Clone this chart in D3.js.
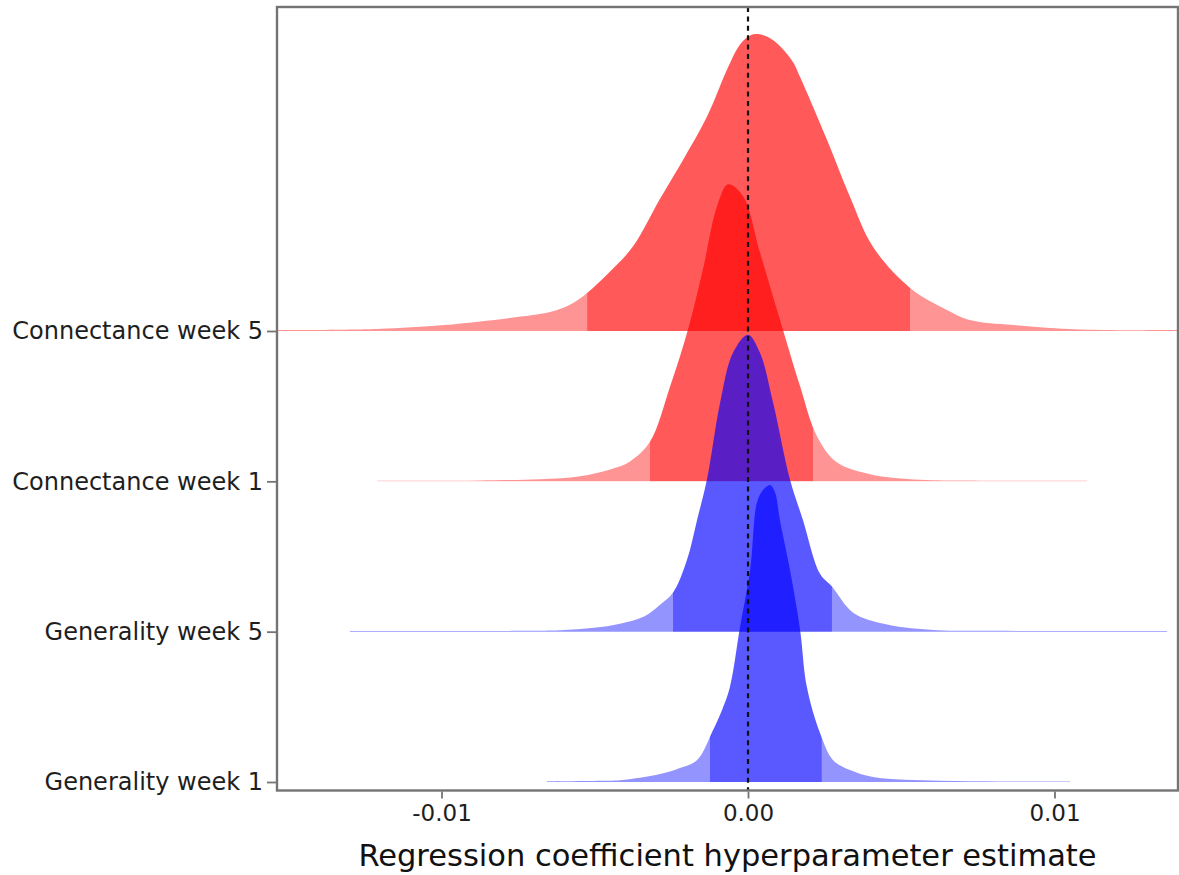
<!DOCTYPE html>
<html>
<head>
<meta charset="utf-8">
<script src="https://cdn.jsdelivr.net/npm/d3@7"></script>
<style>
  body { margin: 0; background: #fff; }
  svg { display: block; }
  text { font-family: "DejaVu Sans", sans-serif; }
</style>
</head>
<body>
<svg id="chart" width="1179" height="875"></svg>
<script>
// Rows, top to bottom
const categories = ["Connectance week 5", "Connectance week 1", "Generality week 5", "Generality week 1"];
const groups = ["connectance", "connectance", "generality", "generality"];

// Posterior densities: estimate grid and relative density (peak = 1)
const connectanceWeek5X = [-0.01537, -0.01210, -0.00992, -0.00777, -0.00646, -0.00581, -0.00525, -0.00450, -0.00375, -0.00287, -0.00212, -0.00134, -0.00069, -0.00026, 0.00007, 0.00033, 0.00065, 0.00104, 0.00147, 0.00170, 0.00258, 0.00333, 0.00408, 0.00529, 0.00649, 0.00724, 0.00865, 0.01083, 0.01403];
const connectanceWeek5Y = [0.003, 0.007, 0.020, 0.044, 0.064, 0.088, 0.128, 0.200, 0.285, 0.445, 0.576, 0.721, 0.879, 0.965, 0.995, 1.000, 0.990, 0.960, 0.905, 0.855, 0.643, 0.451, 0.283, 0.145, 0.071, 0.037, 0.020, 0.005, 0.003];

const connectanceWeek1X = [-0.01210, -0.01040, -0.00874, -0.00679, -0.00548, -0.00450, -0.00385, -0.00320, -0.00254, -0.00196, -0.00147, -0.00101, -0.00065, -0.00016, 0.00039, 0.00104, 0.00170, 0.00225, 0.00290, 0.00398, 0.00561, 0.00700, 0.00850, 0.01106];
const connectanceWeek1Y = [0.002, 0.002, 0.003, 0.007, 0.017, 0.040, 0.067, 0.133, 0.320, 0.510, 0.714, 0.926, 1.000, 0.960, 0.771, 0.545, 0.320, 0.152, 0.064, 0.024, 0.005, 0.003, 0.002, 0.002];

const generalityWeek5X = [-0.01299, -0.01000, -0.00721, -0.00613, -0.00502, -0.00418, -0.00339, -0.00287, -0.00245, -0.00199, -0.00166, -0.00134, -0.00091, -0.00049, 0.00000, 0.00039, 0.00082, 0.00137, 0.00179, 0.00235, 0.00274, 0.00343, 0.00454, 0.00617, 0.00800, 0.01050, 0.01367];
const generalityWeek5Y = [0.002, 0.002, 0.003, 0.005, 0.013, 0.027, 0.051, 0.091, 0.131, 0.242, 0.377, 0.512, 0.771, 0.939, 1.000, 0.939, 0.771, 0.512, 0.377, 0.195, 0.152, 0.064, 0.024, 0.005, 0.003, 0.002, 0.002];

const generalityWeek1X = [-0.00656, -0.00483, -0.00408, -0.00297, -0.00222, -0.00166, -0.00114, -0.00085, -0.00059, -0.00026, 0.00007, 0.00029, 0.00049, 0.00072, 0.00088, 0.00104, 0.00137, 0.00170, 0.00192, 0.00235, 0.00277, 0.00333, 0.00408, 0.00626, 0.00820, 0.01051];
const generalityWeek1Y = [0.002, 0.004, 0.007, 0.024, 0.047, 0.074, 0.175, 0.242, 0.320, 0.522, 0.714, 0.940, 0.983, 1.000, 0.976, 0.882, 0.714, 0.512, 0.320, 0.165, 0.074, 0.040, 0.017, 0.004, 0.002, 0.002];

// Central credible interval for each row (same order as categories)
const intervalLow  = [-0.00525, -0.00320, -0.00245, -0.00124];
const intervalHigh = [ 0.00529,  0.00212,  0.00274,  0.00241];

// Axis ticks
const xTicks = [-0.01, 0.00, 0.01];
const xTickLabels = ["-0.01", "0.00", "0.01"];
const xTitle = "Regression coefficient hyperparameter estimate";

const densityX = [connectanceWeek5X, connectanceWeek1X, generalityWeek5X, generalityWeek1X];
const densityY = [connectanceWeek5Y, connectanceWeek1Y, generalityWeek5Y, generalityWeek1Y];

// Layout
const plot = { left: 277, right: 1178, top: 7, bottom: 790.5 };
const frameColor = "#747474";
const groupColor = d3.scaleOrdinal().domain(["connectance", "generality"]).range(["#ff0000", "#0000ff"]);
const tailOpacity = 0.42;
const centerOpacity = 0.65;

const svg = d3.select("#chart");

const x = d3.scaleLinear()
  .domain([-0.01, 0.01])
  .range([441.5, 1054.5]);

const y = d3.scalePoint()
  .domain(categories)
  .range([331, 782]);

// Ridge height: a density of 1 reaches just under two rows up
const h = d3.scaleLinear().domain([0, 1]).range([0, 297]);

const defs = svg.append("defs");
defs.append("clipPath").attr("id", "plot-clip")
  .append("rect")
  .attr("x", plot.left).attr("y", plot.top)
  .attr("width", plot.right - plot.left).attr("height", plot.bottom - plot.top);

const ridges = svg.append("g").attr("clip-path", "url(#plot-clip)");

categories.forEach((cat, i) => {
  const base = y(cat);
  const pts = densityX[i].map((v, k) => [v, densityY[i][k]]);
  const area = d3.area()
    .x(d => x(d[0]))
    .y0(base)
    .y1(d => base - h(d[1]))
    .curve(d3.curveCatmullRom.alpha(0.5));
  const pathD = area(pts);

  const lo = x(intervalLow[i]);
  const hi = x(intervalHigh[i]);

  const tailClip = defs.append("clipPath").attr("id", "tail-" + i);
  tailClip.append("rect").attr("x", 0).attr("y", 0).attr("width", lo).attr("height", base + 0.5);
  tailClip.append("rect").attr("x", hi).attr("y", 0).attr("width", 1179 - hi).attr("height", base + 0.5);

  defs.append("clipPath").attr("id", "center-" + i)
    .append("rect").attr("x", lo).attr("y", 0).attr("width", hi - lo).attr("height", base + 0.5);

  const col = groupColor(groups[i]);
  const g = ridges.append("g").attr("class", "ridge");
  g.append("path")
    .attr("d", pathD)
    .attr("fill", col)
    .attr("fill-opacity", tailOpacity)
    .attr("clip-path", "url(#tail-" + i + ")");
  g.append("path")
    .attr("d", pathD)
    .attr("fill", col)
    .attr("fill-opacity", centerOpacity)
    .attr("clip-path", "url(#center-" + i + ")");
});

// Reference line at zero
svg.append("line")
  .attr("x1", x(0)).attr("x2", x(0))
  .attr("y1", plot.top).attr("y2", plot.bottom)
  .attr("stroke", "#111")
  .attr("stroke-width", 2.2)
  .attr("stroke-dasharray", "5,4.4");

// Panel frame
svg.append("rect")
  .attr("x", plot.left).attr("y", plot.top)
  .attr("width", plot.right - plot.left).attr("height", plot.bottom - plot.top)
  .attr("fill", "none")
  .attr("stroke", frameColor)
  .attr("stroke-width", 2.4);

// Bottom axis
const xAxis = d3.axisBottom(x)
  .tickValues(xTicks)
  .tickFormat((d, i) => xTickLabels[i])
  .tickSize(7)
  .tickPadding(6);
const gx = svg.append("g")
  .attr("transform", `translate(0,${plot.bottom + 1})`)
  .call(xAxis);
gx.select(".domain").remove();
gx.selectAll(".tick line").attr("stroke", frameColor).attr("stroke-width", 1.8);
gx.selectAll(".tick text")
  .attr("fill", "#1e1e1e")
  .style("font-size", "23px")
  .style("font-family", "'DejaVu Sans', sans-serif");

// Left axis
const yAxis = d3.axisLeft(y)
  .tickSize(9)
  .tickPadding(4);
const gy = svg.append("g")
  .attr("transform", `translate(${plot.left - 1},0)`)
  .call(yAxis);
gy.select(".domain").remove();
gy.selectAll(".tick line").attr("stroke", frameColor).attr("stroke-width", 1.8);
gy.selectAll(".tick text")
  .attr("fill", "#1e1e1e")
  .style("font-size", "24px")
  .style("font-family", "'DejaVu Sans', sans-serif");

// Axis title
svg.append("text")
  .attr("x", (plot.left + plot.right) / 2)
  .attr("y", 866)
  .attr("text-anchor", "middle")
  .attr("fill", "#111")
  .style("font-size", "30.5px")
  .text(xTitle);
</script>
</body>
</html>
